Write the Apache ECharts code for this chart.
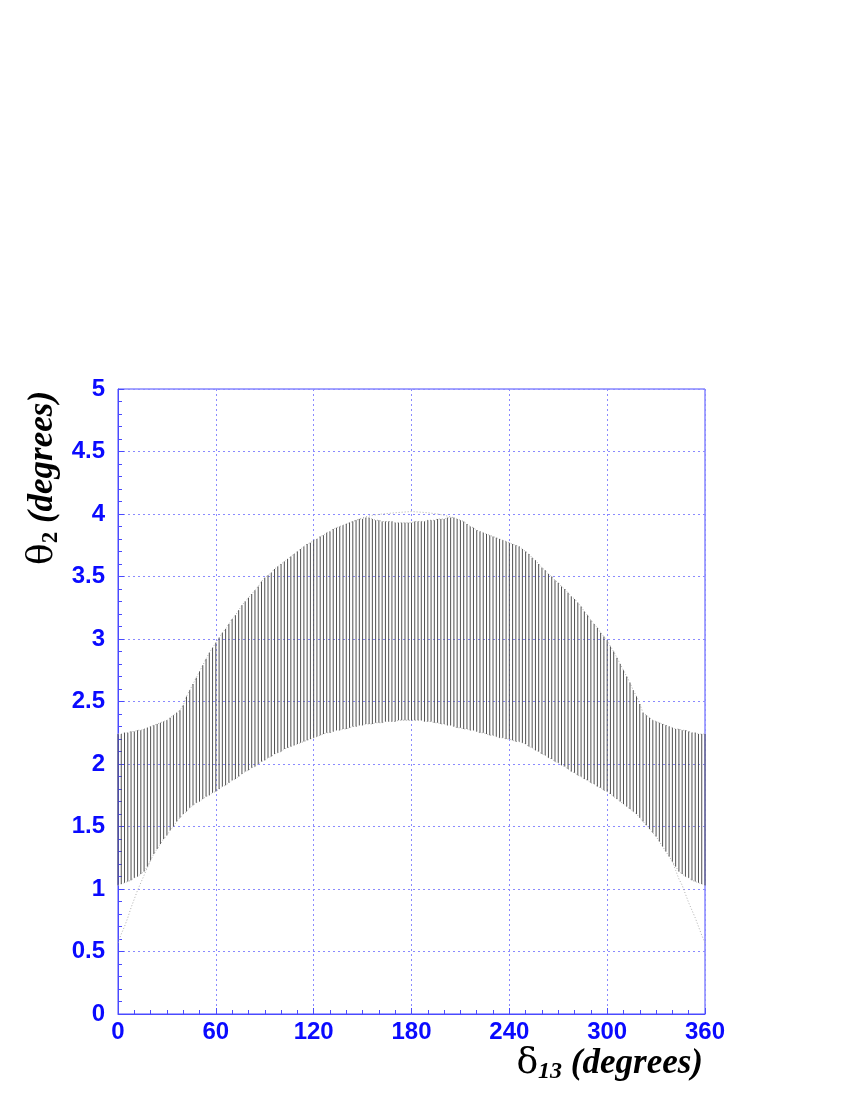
<!DOCTYPE html>
<html>
<head>
<meta charset="utf-8">
<script src="https://cdn.jsdelivr.net/npm/echarts@6/dist/echarts.min.js"></script>
<style>
  html, body { margin: 0; padding: 0; background: #fff; }
  #chart { width: 845px; height: 1093px; }
</style>
</head>
<body>
<div id="chart"></div>
<script>
// delta_13 values (degrees), one hatch line every 2 degrees
const delta = [
  0, 2, 4, 6, 8, 10, 12, 14, 16, 18,
  20, 22, 24, 26, 28, 30, 32, 34, 36, 38,
  40, 42, 44, 46, 48, 50, 52, 54, 56, 58,
  60, 62, 64, 66, 68, 70, 72, 74, 76, 78,
  80, 82, 84, 86, 88, 90, 92, 94, 96, 98,
  100, 102, 104, 106, 108, 110, 112, 114, 116, 118,
  120, 122, 124, 126, 128, 130, 132, 134, 136, 138,
  140, 142, 144, 146, 148, 150, 152, 154, 156, 158,
  160, 162, 164, 166, 168, 170, 172, 174, 176, 178,
  180, 182, 184, 186, 188, 190, 192, 194, 196, 198,
  200, 202, 204, 206, 208, 210, 212, 214, 216, 218,
  220, 222, 224, 226, 228, 230, 232, 234, 236, 238,
  240, 242, 244, 246, 248, 250, 252, 254, 256, 258,
  260, 262, 264, 266, 268, 270, 272, 274, 276, 278,
  280, 282, 284, 286, 288, 290, 292, 294, 296, 298,
  300, 302, 304, 306, 308, 310, 312, 314, 316, 318,
  320, 322, 324, 326, 328, 330, 332, 334, 336, 338,
  340, 342, 344, 346, 348, 350, 352, 354, 356, 358,
  360
];

// top of each hatch line (theta_2, degrees)
const hatchHigh = [
  2.24, 2.24, 2.25, 2.25, 2.26, 2.26, 2.27, 2.27, 2.28, 2.29,
  2.30, 2.31, 2.32, 2.33, 2.34, 2.35, 2.37, 2.39, 2.41, 2.43,
  2.47, 2.54, 2.59, 2.64, 2.69, 2.74, 2.79, 2.84, 2.89, 2.93,
  2.97, 3.01, 3.05, 3.08, 3.12, 3.16, 3.19, 3.23, 3.27, 3.30,
  3.33, 3.36, 3.39, 3.42, 3.46, 3.49, 3.51, 3.53, 3.56, 3.58,
  3.60, 3.62, 3.64, 3.66, 3.68, 3.70, 3.72, 3.74, 3.76, 3.77,
  3.79, 3.80, 3.82, 3.83, 3.85, 3.86, 3.88, 3.89, 3.90, 3.91,
  3.92, 3.93, 3.94, 3.95, 3.96, 3.96, 3.97, 3.97, 3.96, 3.95,
  3.95, 3.94, 3.94, 3.94, 3.94, 3.93, 3.93, 3.93, 3.93, 3.93,
  3.93, 3.94, 3.94, 3.94, 3.94, 3.95, 3.95, 3.95, 3.96, 3.96,
  3.96, 3.97, 3.97, 3.97, 3.96, 3.95, 3.94, 3.92, 3.90, 3.89,
  3.87, 3.86, 3.85, 3.84, 3.83, 3.82, 3.81, 3.80, 3.79, 3.78,
  3.77, 3.76, 3.75, 3.74, 3.72, 3.70, 3.68, 3.65, 3.63, 3.60,
  3.57, 3.55, 3.52, 3.50, 3.47, 3.45, 3.42, 3.40, 3.37, 3.34,
  3.32, 3.29, 3.26, 3.22, 3.19, 3.15, 3.12, 3.09, 3.05, 3.02,
  2.99, 2.94, 2.90, 2.85, 2.80, 2.75, 2.70, 2.65, 2.59, 2.54,
  2.48, 2.41, 2.39, 2.37, 2.35, 2.34, 2.33, 2.32, 2.31, 2.30,
  2.29, 2.28, 2.28, 2.27, 2.27, 2.26, 2.25, 2.25, 2.24, 2.24,
  2.24
];

// bottom of each hatch line
const hatchLow = [
  1.03, 1.04, 1.05, 1.06, 1.07, 1.09, 1.10, 1.12, 1.14, 1.18,
  1.23, 1.28, 1.32, 1.36, 1.40, 1.43, 1.47, 1.50, 1.54, 1.57,
  1.60, 1.62, 1.65, 1.67, 1.69, 1.70, 1.72, 1.74, 1.75, 1.77,
  1.78, 1.80, 1.82, 1.83, 1.85, 1.87, 1.88, 1.90, 1.92, 1.94,
  1.95, 1.97, 1.98, 2.00, 2.02, 2.03, 2.05, 2.06, 2.08, 2.09,
  2.10, 2.12, 2.13, 2.14, 2.15, 2.16, 2.17, 2.18, 2.19, 2.20,
  2.21, 2.22, 2.23, 2.24, 2.25, 2.25, 2.26, 2.27, 2.27, 2.28,
  2.28, 2.29, 2.30, 2.30, 2.31, 2.31, 2.32, 2.32, 2.32, 2.33,
  2.33, 2.33, 2.34, 2.34, 2.34, 2.34, 2.35, 2.35, 2.35, 2.35,
  2.35, 2.35, 2.35, 2.35, 2.34, 2.34, 2.34, 2.33, 2.33, 2.32,
  2.32, 2.31, 2.31, 2.30, 2.29, 2.29, 2.28, 2.28, 2.27, 2.27,
  2.26, 2.25, 2.25, 2.24, 2.23, 2.23, 2.22, 2.21, 2.21, 2.20,
  2.20, 2.19, 2.18, 2.18, 2.17, 2.16, 2.14, 2.13, 2.11, 2.10,
  2.08, 2.07, 2.05, 2.04, 2.02, 2.01, 1.99, 1.98, 1.96, 1.94,
  1.93, 1.91, 1.90, 1.88, 1.87, 1.85, 1.84, 1.82, 1.81, 1.79,
  1.78, 1.76, 1.74, 1.72, 1.70, 1.68, 1.66, 1.64, 1.62, 1.60,
  1.57, 1.54, 1.51, 1.48, 1.45, 1.42, 1.38, 1.34, 1.30, 1.26,
  1.22, 1.18, 1.14, 1.12, 1.10, 1.09, 1.07, 1.06, 1.05, 1.04,
  1.03
];

// faint dotted boundary pieces that run outside the hatching
const tailLeftX = [0, 2, 4, 6, 8, 10, 12, 14, 16, 18, 20];
const tailLeftY = [0.57, 0.64, 0.70, 0.77, 0.85, 0.92, 0.99, 1.05, 1.11, 1.17, 1.23];
const tailRightX = [340, 342, 344, 346, 348, 350, 352, 354, 356, 358, 360];
const tailRightY = [1.22, 1.15, 1.08, 1.03, 0.96, 0.89, 0.83, 0.77, 0.70, 0.63, 0.57];
const capX = [140, 146, 150, 156, 162, 170, 180, 190, 196, 200, 206];
const capY = [3.92, 3.95, 3.97, 3.99, 4.00, 4.01, 4.02, 4.01, 4.00, 3.99, 3.97];

const xTicks = [0, 60, 120, 180, 240, 300, 360];

const axisBlue = '#4a4aff';
const labelBlue = '#0a0aff';
const gridBlue = '#8a8aff';

const zip = (xs, ys) => xs.map((x, i) => [x, ys[i]]);

const chart = echarts.init(document.getElementById('chart'));

const dottedLine = (data) => ({
  type: 'line',
  data: data,
  showSymbol: false,
  silent: true,
  z: 1,
  lineStyle: { color: '#b0b0b0', width: 1, type: [1, 2] }
});

const option = {
  backgroundColor: '#fff',
  animation: false,
  grid: {
    left: 118,
    right: 140,
    top: 389,
    bottom: 79,
    show: true,
    borderColor: axisBlue,
    borderWidth: 1
  },
  xAxis: {
    type: 'value',
    min: 0,
    max: 360,
    interval: 60,
    axisLine: { lineStyle: { color: axisBlue, width: 1 } },
    axisTick: { inside: true, length: 6, lineStyle: { color: axisBlue } },
    minorTick: { show: true, splitNumber: 6, length: 4, lineStyle: { color: axisBlue } },
    splitLine: { lineStyle: { color: gridBlue, type: [2, 3], width: 1 } },
    axisLabel: {
      color: labelBlue,
      fontFamily: 'Liberation Sans',
      fontWeight: 'bold',
      fontSize: 24,
      margin: 6,
      formatter: (v) => xTicks.includes(v) ? String(v) : ''
    }
  },
  yAxis: {
    type: 'value',
    min: 0,
    max: 5,
    interval: 0.5,
    axisLine: { show: true, lineStyle: { color: axisBlue, width: 1 } },
    axisTick: { show: true, inside: true, length: 6, lineStyle: { color: axisBlue } },
    minorTick: { show: true, splitNumber: 5, length: 4, lineStyle: { color: axisBlue } },
    splitLine: { lineStyle: { color: gridBlue, type: [2, 3], width: 1 } },
    axisLabel: {
      color: labelBlue,
      fontFamily: 'Liberation Sans',
      fontWeight: 'bold',
      fontSize: 24,
      margin: 13
    }
  },
  graphic: [
    {
      type: 'text',
      x: 43,
      y: 478,
      rotation: Math.PI / 2,
      style: {
        text: '{t|θ}{s|2}{d| (degrees)}',
        align: 'center',
        verticalAlign: 'middle',
        fill: '#000',
        rich: {
          t: { fontFamily: 'DejaVu Serif', fontSize: 36, lineHeight: 40, fill: '#000' },
          s: { fontFamily: 'Liberation Serif', fontWeight: 'bold', fontSize: 23, lineHeight: 22, verticalAlign: 'bottom', fill: '#000' },
          d: { fontFamily: 'Liberation Serif', fontWeight: 'bold', fontStyle: 'italic', fontSize: 35, lineHeight: 40, fill: '#000' }
        }
      }
    },
    {
      type: 'text',
      x: 703,
      y: 1064,
      style: {
        text: '{t|δ}{s|13}{d| (degrees)}',
        align: 'right',
        verticalAlign: 'middle',
        fill: '#000',
        rich: {
          t: { fontFamily: 'DejaVu Serif', fontSize: 36, lineHeight: 40, fill: '#000' },
          s: { fontFamily: 'Liberation Serif', fontWeight: 'bold', fontStyle: 'italic', fontSize: 24, lineHeight: 22, verticalAlign: 'bottom', fill: '#000' },
          d: { fontFamily: 'Liberation Serif', fontWeight: 'bold', fontStyle: 'italic', fontSize: 35, lineHeight: 40, fill: '#000' }
        }
      }
    }
  ],
  series: [
    {
      type: 'custom',
      silent: true,
      z: 2,
      encode: { x: 0, y: [1, 2] },
      data: delta.map((d, i) => [d, hatchLow[i], hatchHigh[i]]),
      renderItem: (params, api) => {
        const p1 = api.coord([api.value(0), api.value(1)]);
        const p2 = api.coord([api.value(0), api.value(2)]);
        return {
          type: 'line',
          shape: { x1: p1[0], y1: p1[1], x2: p2[0], y2: p2[1] },
          style: { stroke: '#505050', lineWidth: 1 }
        };
      }
    },
    dottedLine(zip(delta, hatchHigh)),
    dottedLine(zip(delta, hatchLow)),
    dottedLine(zip(tailLeftX, tailLeftY)),
    dottedLine(zip(tailRightX, tailRightY)),
    dottedLine(zip(capX, capY))
  ]
};

chart.setOption(option);
</script>
</body>
</html>
